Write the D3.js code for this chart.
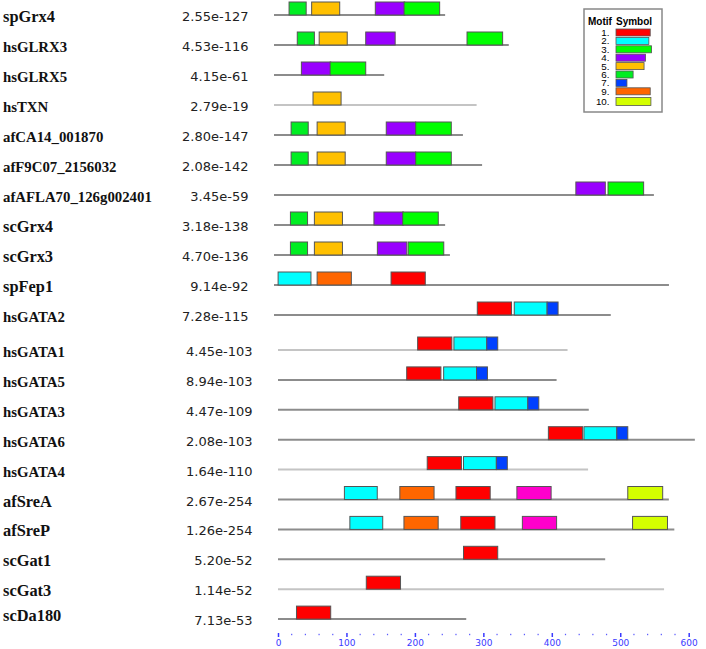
<!DOCTYPE html>
<html>
<head>
<meta charset="utf-8">
<script src="https://cdn.jsdelivr.net/npm/d3@7"></script>
<style>
  body { margin: 0; background: #fff; }
  svg { display: block; }
</style>
</head>
<body>
<svg id="chart" width="706" height="649"></svg>
<script>
// sequence names, E-values and lengths (in residues)
var names = ["spGrx4", "hsGLRX3", "hsGLRX5", "hsTXN", "afCA14_001870", "afF9C07_2156032",
  "afAFLA70_126g002401", "scGrx4", "scGrx3", "spFep1", "hsGATA2",
  "hsGATA1", "hsGATA5", "hsGATA3", "hsGATA6", "hsGATA4",
  "afSreA", "afSreP", "scGat1", "scGat3", "scDa180"];
var evalues = ["2.55e-127", "4.53e-116", "4.15e-61", "2.79e-19", "2.80e-147", "2.08e-142",
  "3.45e-59", "3.18e-138", "4.70e-136", "9.14e-92", "7.28e-115",
  "4.45e-103", "8.94e-103", "4.47e-109", "2.08e-103", "1.64e-110",
  "2.67e-254", "1.26e-254", "5.20e-52", "1.14e-52", "7.13e-53"];
var lengths = [250, 343, 161, 296, 276, 304, 555, 250, 257, 577, 492,
  423, 407, 454, 609, 453, 571, 579, 478, 564, 275];

// motif hits per sequence: [motif, start]
var sites = [
  [[6, 22], [5, 55], [4, 148], [3, 190]],
  [[6, 34], [5, 66], [4, 134], [3, 282]],
  [[4, 40], [3, 82]],
  [[5, 57]],
  [[6, 25], [5, 63], [4, 164], [3, 207]],
  [[6, 25], [5, 63], [4, 164], [3, 207]],
  [[4, 441], [3, 488]],
  [[6, 24], [5, 59], [4, 146], [3, 188]],
  [[6, 24], [5, 59], [4, 151], [3, 196]],
  [[2, 6], [9, 63], [1, 171]],
  [[1, 297], [2, 351], [7, 399]],
  [[1, 204], [2, 257], [7, 305]],
  [[1, 188], [2, 242], [7, 290]],
  [[1, 264], [2, 317], [7, 365]],
  [[1, 395], [2, 447], [7, 495]],
  [[1, 218], [2, 271], [7, 319]],
  [[2, 97], [9, 178], [1, 260], [8, 349], [10, 511]],
  [[2, 105], [9, 184], [1, 267], [8, 357], [10, 518]],
  [[1, 271]],
  [[1, 129]],
  [[1, 27]]
];

// motif widths and colours
var motifs = [1, 2, 3, 4, 5, 6, 7, 8, 9, 10];
var motifWidth = [50, 48, 52, 43, 41, 25, 16, 50, 50, 51];
var motifColor = ["#ff0000", "#00ffff", "#00ff00", "#9900ff", "#ffc000",
  "#00ee22", "#0040ff", "#ff00cc", "#ff6600", "#d4ff00"];
var legendMotifs = [1, 2, 3, 4, 5, 6, 7, 9, 10];

var axisTicks = [0, 100, 200, 300, 400, 500, 600];

var faint = new Set(["hsTXN", "hsGATA1", "hsGATA4", "scGat3"]);

var svg = d3.select("#chart");
var x = d3.scaleLinear().domain([0, 600]).range([0, 410.7]);
var boxH = 13;

// the lower block of rows sits a little further right than the upper one
var rowY = function(i) { return i < 11 ? 15 + 30 * i : 350 + 29.9 * (i - 11); };
var rowX = function(i) { return i < 11 ? 274 : 278; };
var evalX = function(i) { return i < 11 ? 248.5 : 252.5; };
// the long human / Aspergillus names were set a bit smaller in the figure
var labelSize = function(d) {
  return (d.slice(0, 2) == "hs" || (d.slice(0, 2) == "af" && d.length > 8)) ? "14.8px" : "16.4px";
};

var rows = svg.append("g").selectAll("g.row")
  .data(names)
  .enter().append("g")
  .attr("class", "row");

rows.append("text")
  .attr("x", 3)
  .attr("y", function(d, i) { return rowY(i) + (d == "scDa180" ? 2 : 7); })
  .attr("font-family", "'Liberation Serif', 'Times New Roman', serif")
  .attr("font-weight", "bold")
  .attr("font-size", labelSize)
  .attr("fill", "#111")
  .text(function(d) { return d; });

rows.append("text")
  .attr("x", function(d, i) { return evalX(i); })
  .attr("y", function(d, i) { return rowY(i) + 6; })
  .attr("text-anchor", "end")
  .attr("font-family", "'DejaVu Sans', Verdana, sans-serif")
  .attr("font-size", "13px")
  .attr("fill", "#222")
  .text(function(d, i) { return evalues[i]; });

rows.append("line")
  .attr("x1", function(d, i) { return rowX(i) + x(0); })
  .attr("x2", function(d, i) { return rowX(i) + x(lengths[i]); })
  .attr("y1", function(d, i) { return rowY(i); })
  .attr("y2", function(d, i) { return rowY(i); })
  .attr("stroke", function(d) { return faint.has(d) ? "#c4c4c4" : "#8c8c8c"; })
  .attr("stroke-width", 2);

rows.each(function(d, i) {
  d3.select(this).selectAll("rect")
    .data(sites[i])
    .enter().append("rect")
    .attr("x", function(s) { return rowX(i) + x(s[1]); })
    .attr("y", rowY(i) - boxH)
    .attr("width", function(s) { return x(motifWidth[s[0] - 1]); })
    .attr("height", boxH)
    .attr("fill", function(s) { return motifColor[s[0] - 1]; })
    .attr("stroke", "#555")
    .attr("stroke-width", 1);
});

// position axis
var axisG = svg.append("g")
  .attr("transform", "translate(278,633)")
  .call(d3.axisBottom(x).tickValues(axisTicks).tickSize(4).tickPadding(3));
axisG.select(".domain").remove();
axisG.selectAll(".tick line").attr("stroke", "#3a3aff").attr("stroke-width", 1.5);
axisG.selectAll(".tick text")
  .attr("fill", "#3a3aff")
  .attr("font-family", "'DejaVu Sans', Verdana, sans-serif")
  .attr("font-size", "9px");
axisG.selectAll("rect.minor")
  .data(d3.range(20, 600, 20).filter(function(v) { return v % 100 != 0; }))
  .enter().append("rect")
  .attr("class", "minor")
  .attr("x", function(v) { return x(v) - 0.6; })
  .attr("y", 0.8)
  .attr("width", 1.2)
  .attr("height", 1.4)
  .attr("fill", "#5a5aff");

// legend
var lg = svg.append("g").attr("transform", "translate(584,9)");
lg.append("rect")
  .attr("width", 78).attr("height", 103)
  .attr("fill", "#fff").attr("stroke", "#888").attr("stroke-width", 1.5);
lg.append("text").attr("x", 4).attr("y", 16).text("Motif")
  .attr("font-family", "'Liberation Sans', Arial, sans-serif")
  .attr("font-weight", "bold").attr("font-size", "10px");
lg.append("text").attr("x", 32).attr("y", 16).text("Symbol")
  .attr("font-family", "'Liberation Sans', Arial, sans-serif")
  .attr("font-weight", "bold").attr("font-size", "10px");
var legY = function(k) { return k < 8 ? 20 + 8.4 * k : 88.5; };
var items = lg.selectAll("g.item")
  .data(legendMotifs)
  .enter().append("g")
  .attr("class", "item");
items.append("text")
  .attr("x", 25.5)
  .attr("y", function(m, k) { return legY(k) + 7; })
  .attr("text-anchor", "end")
  .attr("font-family", "'Liberation Sans', Arial, sans-serif")
  .attr("font-size", "9.8px")
  .text(function(m) { return m + "."; });
items.append("rect")
  .attr("x", 32)
  .attr("y", function(m, k) { return legY(k); })
  .attr("width", function(m) { return x(motifWidth[m - 1]); })
  .attr("height", function(m, k) { return k < 8 ? 7 : 8; })
  .attr("fill", function(m) { return motifColor[m - 1]; })
  .attr("stroke", "#555")
  .attr("stroke-width", 0.8);
</script>
</body>
</html>
